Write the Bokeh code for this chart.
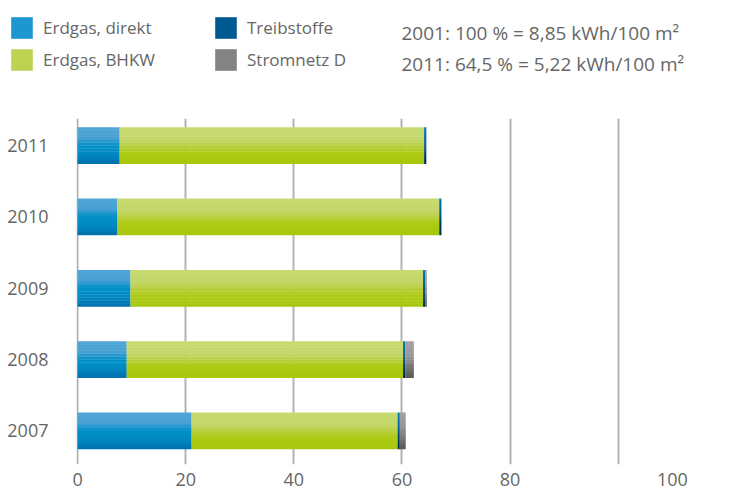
from bokeh.plotting import figure
from bokeh.models import ColumnDataSource, Range1d, FixedTicker, Legend, LegendItem, Label
from bokeh.layouts import column
from bokeh.transform import dodge
from bokeh.embed import file_html
from bokeh.resources import INLINE

# ---- data (percent of 2001 consumption) ----
years = ["2007", "2008", "2009", "2010", "2011"]
erdgas_direkt = [21.1, 9.1, 9.8, 7.3, 7.8]
erdgas_bhkw = [38.1, 51.1, 54.1, 59.6, 56.3]
treibstoffe = [0.4, 0.4, 0.4, 0.4, 0.4]
stromnetz = [1.1, 1.6, 0.3, 0.0, 0.0]
series_names = ["Erdgas, direkt", "Erdgas, BHKW", "Treibstoffe", "Stromnetz D"]
grid_ticks = [0, 20, 40, 60, 80, 100]
x_tick_labels = ["0", "20", "40", "60", "80", "100"]
x_tick_pos = [0, 20, 40, 60, 80, 110]   # label "100" sits right of its grid line, as in the original
note_lines = ["2001: 100 % = 8,85 kWh/100 m²", "2011: 64,5 % = 5,22 kWh/100 m²"]

FONT = "Open Sans"
TXT = "#666666"

# vertical gradient stops (top -> bottom)
stops = {
    "Erdgas, direkt": [(0.0, (82, 166, 214)), (0.28, (74, 160, 212)), (0.5, (0, 144, 200)),
                       (0.78, (0, 134, 192)), (1.0, (0, 110, 170))],
    "Erdgas, BHKW": [(0.0, (199, 218, 114)), (0.35, (195, 214, 104)), (0.68, (173, 202, 22)),
                     (1.0, (168, 199, 10))],
    "Treibstoffe": [(0.0, (0, 122, 186)), (0.5, (0, 85, 140)), (1.0, (0, 40, 72))],
    "Stromnetz D": [(0.0, (162, 162, 162)), (0.4, (150, 150, 150)), (1.0, (88, 88, 88))],
}
legend_colors = {"Erdgas, direkt": "#1c97cf", "Erdgas, BHKW": "#bcd352",
                 "Treibstoffe": "#005a92", "Stromnetz D": "#838383"}


def grad(st, t):
    for (t0, c0), (t1, c1) in zip(st[:-1], st[1:]):
        if t0 <= t <= t1:
            f = (t - t0) / (t1 - t0) if t1 > t0 else 0
            c = [round(a + (b - a) * f) for a, b in zip(c0, c1)]
            return "#%02x%02x%02x" % tuple(c)
    return "#%02x%02x%02x" % st[-1][1]


# ---------- main bar chart ----------
TOP_H = 118
FRAME_L = 76
p = figure(width=734, height=490 - TOP_H, output_backend="svg", toolbar_location=None,
           x_range=Range1d(-0.19, 121.5), y_range=Range1d(-0.47, 4.38),
           min_border_left=FRAME_L, min_border_right=0, min_border_top=0, min_border_bottom=26)
p.outline_line_color = None
p.ygrid.visible = False
p.xgrid.ticker = FixedTicker(ticks=grid_ticks)
p.xgrid.grid_line_color = "#b3b3b3"
p.xgrid.grid_line_width = 2

p.xaxis.ticker = FixedTicker(ticks=x_tick_pos)
p.xaxis.major_label_overrides = {pos: lab for pos, lab in zip(x_tick_pos, x_tick_labels)}
p.yaxis.ticker = FixedTicker(ticks=list(range(len(years))))
p.yaxis.major_label_overrides = {i: y for i, y in enumerate(years)}
for ax in (p.xaxis[0], p.yaxis[0]):
    ax.axis_line_color = None
    ax.major_tick_line_color = None
    ax.minor_tick_line_color = None
    ax.major_label_text_font = FONT
    ax.major_label_text_font_size = "18px"
    ax.major_label_text_color = TXT
p.xaxis.major_label_standoff = 2
p.yaxis.major_label_standoff = 22

ypos = list(range(len(years)))
vals = [erdgas_direkt, erdgas_bhkw, treibstoffe, stromnetz]
left = [0.0] * len(years)
BAR_H = 0.51
N = 12
sources = []
for name, v in zip(series_names, vals):
    right = [l + x for l, x in zip(left, v)]
    src = ColumnDataSource(dict(y=ypos, left=list(left), right=right))
    sources.append(src)
    for k in range(N):
        t = (k + 0.5) / N
        off = BAR_H / 2 - (k + 0.5) * BAR_H / N
        p.hbar(y=dodge("y", off, range=p.y_range), left="left", right="right",
               height=BAR_H / N * 1.12, source=src, fill_color=grad(stops[name], t),
               line_color=None)
    left = right

# ---------- header (legend + notes) ----------
top = figure(width=734, height=TOP_H, output_backend="svg", toolbar_location=None,
             x_range=Range1d(0, 734), y_range=Range1d(0, TOP_H),
             x_axis_type=None, y_axis_type=None, min_border=0)
top.outline_line_color = None
top.xgrid.visible = False
top.ygrid.visible = False

# keep the header's frame independent of the chart's frame, if this Bokeh allows it
if "frame_align" in top.properties():
    top.frame_align = False
    p.frame_align = False
    OFFX = 0
else:
    OFFX = -(FRAME_L + 1)

items = []
for name, src in zip(series_names, sources):
    r = top.hbar(y="y", left="left", right="right", height=0.5, source=src,
                 fill_color=legend_colors[name], line_color=None, visible=False)
    items.append(LegendItem(label=name, renderers=[r]))

legend = Legend(items=items, location=(8 + OFFX, 45), orientation="vertical", nrows=2,
                glyph_width=27, glyph_height=27, label_standoff=8, spacing=5,
                label_width=164, label_height=27, padding=0, margin=0,
                border_line_color=None, background_fill_alpha=0,
                label_text_font=FONT, label_text_font_size="17px",
                label_text_color=TXT, label_text_baseline="middle")
top.add_layout(legend, "center")

for i, line in enumerate(note_lines):
    top.add_layout(Label(x=401 + OFFX, y=86 - 31 * i, x_units="screen", y_units="screen",
                         text=line, text_font=FONT, text_font_size="19px",
                         text_color=TXT, text_baseline="middle"))

open("out.html", "w").write(file_html(column(top, p, spacing=0), INLINE))
